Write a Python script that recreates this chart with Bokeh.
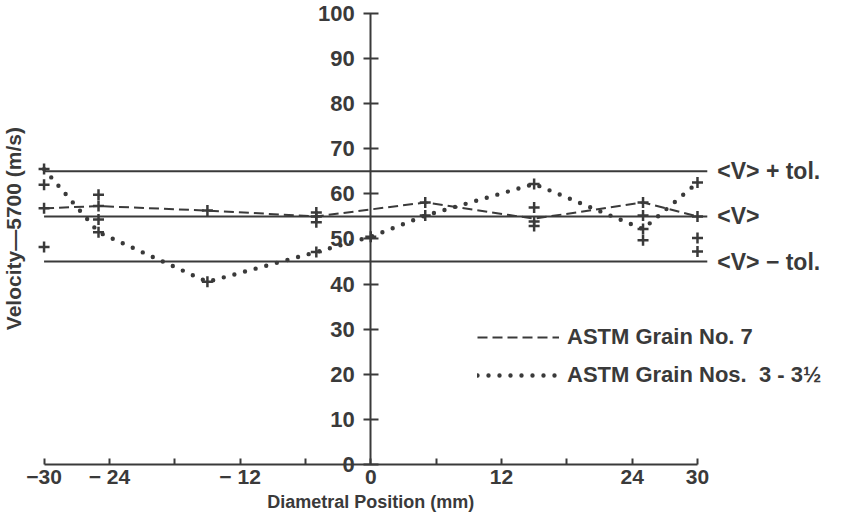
import math
from bokeh.plotting import figure
from bokeh.models import LinearAxis, FixedTicker, Label, Legend, LegendItem, ColumnDataSource
from bokeh.core.properties import value
from bokeh.embed import file_html
from bokeh.resources import INLINE

# ---------------- data ----------------
x_ticks = [-30, -24, -18, -12, -6, 0, 6, 12, 18, 24, 30]
x_tick_labels = ["−30", "− 24", "", "− 12", "", "0", "", "12", "", "24", "30"]
y_ticks = [0, 10, 20, 30, 40, 50, 60, 70, 80, 90, 100]

# ASTM Grain No. 7 (dashed line)
grain7_x = [-30, -25, -15, -5, 5, 15, 25, 30]
grain7_v = [56.8, 57.3, 56.3, 55.0, 58.1, 54.5, 58.1, 55.0]

# ASTM Grain Nos. 3 - 3 1/2 (dotted line)
grain3_x = [-30, -25, -15, -5, 0, 5, 15, 25, 30]
grain3_v = [65.5, 51.5, 40.5, 47.1, 50.5, 55.2, 62.2, 52.2, 62.5]

# individual measurements (+)
meas_x = [-30, -30, -30, -30,
          -25, -25, -25, -25,
          -15, -15,
          -5, -5, -5, -5,
          0,
          5, 5,
          15, 15, 15, 15,
          25, 25, 25, 25,
          30, 30, 30, 30]
meas_v = [65.5, 62.0, 56.8, 48.2,
          59.8, 57.3, 54.3, 51.5,
          56.3, 40.5,
          55.9, 55.0, 53.7, 47.1,
          50.5,
          58.1, 55.2,
          62.2, 57.0, 53.9, 52.9,
          58.1, 55.2, 52.2, 49.7,
          62.5, 55.0, 50.2, 47.2]

# mean velocity and tolerance band
tol_levels = [65, 55, 45]
tol_labels = ["<V> + tol.", "<V>", "<V> − tol."]
line_start = -30
line_end = 30.9

x_title = "Diametral Position (mm)"
y_title = "Velocity—5700 (m/s)"

# ---------------- styling ----------------
INK = "#3a3a3a"
FONT = "Liberation Sans"

p = figure(width=828, height=514, output_backend="svg", toolbar_location=None,
           x_range=(-34.0, 42.03), y_range=(-11.09, 102.88),
           x_axis_location=None, y_axis_location=None, min_border=0,
           outline_line_color=None, background_fill_color="white")
p.grid.grid_line_color = None

# tolerance / mean lines
tol_src = ColumnDataSource(dict(x0=[line_start] * len(tol_levels),
                                x1=[line_end] * len(tol_levels),
                                y=tol_levels, label=tol_labels))
p.segment(x0="x0", y0="y", x1="x1", y1="y", source=tol_src,
          line_color=INK, line_width=2)
p.text(x="x1", y="y", text="label", source=tol_src, x_offset=10,
       text_font=value(FONT), text_font_style="bold", text_font_size="23px",
       text_color=INK, text_baseline="middle", text_align="left")

# series lines
r7 = p.line(grain7_x, grain7_v, line_color=INK, line_width=2, line_dash="10 5")
r3 = p.line(grain3_x, grain3_v, line_color=INK, line_width=4.4,
            line_dash="0 11", line_cap="round")

# measurement points
p.scatter(meas_x, meas_v, marker="cross", size=11, line_color=INK, line_width=2.5)

# axes crossing at the origin
xaxis = LinearAxis(fixed_location=0, bounds=(-30, 30),
                   ticker=FixedTicker(ticks=x_ticks, minor_ticks=[]),
                   major_label_overrides={t: l for t, l in zip(x_ticks, x_tick_labels)})
xaxis.axis_line_width = 2
xaxis.axis_line_color = INK
xaxis.major_tick_in = 6
xaxis.major_tick_out = 0
xaxis.major_tick_line_width = 2
xaxis.major_tick_line_color = INK
xaxis.minor_tick_line_color = None
xaxis.major_label_standoff = 1
xaxis.major_label_text_font = FONT
xaxis.major_label_text_font_style = "bold"
xaxis.major_label_text_font_size = "21px"
xaxis.major_label_text_color = INK
p.add_layout(xaxis, "below")

yaxis = LinearAxis(fixed_location=0, bounds=(0, 100),
                   ticker=FixedTicker(ticks=y_ticks, minor_ticks=[]))
yaxis.axis_line_width = 2
yaxis.axis_line_color = INK
yaxis.major_tick_in = 8
yaxis.major_tick_out = 7
yaxis.major_tick_line_width = 2
yaxis.major_tick_line_color = INK
yaxis.minor_tick_line_color = None
yaxis.major_label_standoff = 9
yaxis.major_label_text_font = FONT
yaxis.major_label_text_font_style = "bold"
yaxis.major_label_text_font_size = "22px"
yaxis.major_label_text_color = INK
p.add_layout(yaxis, "left")

xlab = Label(x=0, y=-8.4, text=x_title, text_align="center",
             text_baseline="alphabetic",
             text_font=FONT, text_font_style="bold", text_font_size="18px",
             text_color=INK)
p.add_layout(xlab)

ylab = Label(x=-32.8, y=52.3, text=y_title, angle=math.pi / 2,
             text_align="center", text_baseline="middle",
             text_font=FONT, text_font_style="bold", text_font_size="21px",
             text_color=INK)
p.add_layout(ylab)

legend = Legend(items=[LegendItem(label="ASTM Grain No. 7", renderers=[r7]),
                       LegendItem(label="ASTM Grain Nos.  3 - 3½", renderers=[r3])],
                location=(477, 126), orientation="vertical",
                glyph_width=82, glyph_height=22, label_height=22,
                label_standoff=8, spacing=12, padding=0, margin=0,
                border_line_color=None, background_fill_alpha=0,
                label_text_font=FONT, label_text_font_style="bold",
                label_text_font_size="22px", label_text_color=INK)
p.add_layout(legend)

open("out.html", "w").write(file_html(p, INLINE))
